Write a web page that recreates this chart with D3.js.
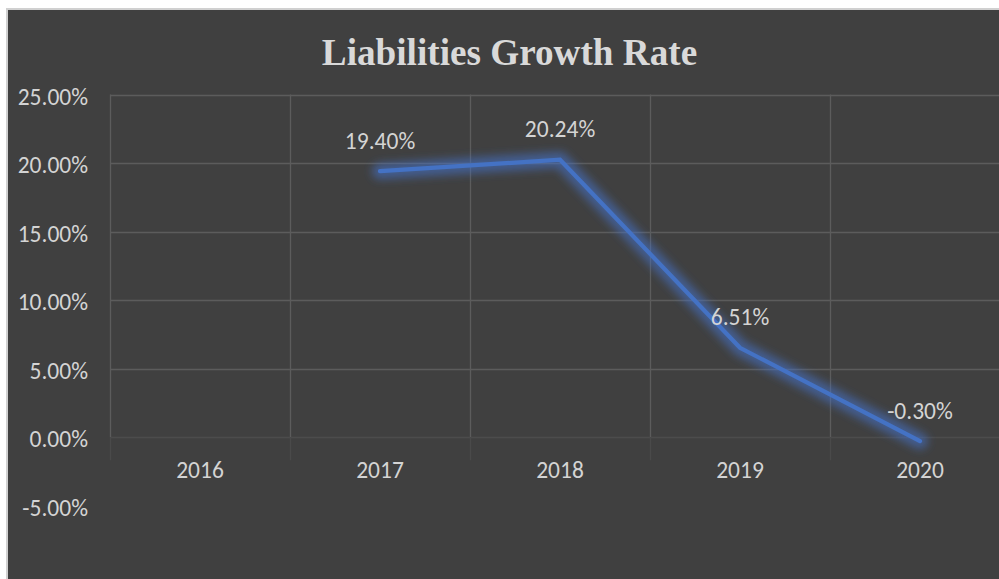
<!DOCTYPE html>
<html><head><meta charset="utf-8">
<script src="https://cdn.jsdelivr.net/npm/d3@7"></script>
<style>html,body{margin:0;padding:0;background:#fff;overflow:hidden}</style>
</head><body>
<svg id="chart" width="999" height="579"></svg>
<script>
const title = "Liabilities Growth Rate";
const years = ["2016", "2017", "2018", "2019", "2020"];
const growthRate = [null, 19.40, 20.24, 6.51, -0.30];
const yTicks = [-5, 0, 5, 10, 15, 20, 25];

const svg = d3.select("#chart");
const W = 999, H = 579;
const fontSans = "Carlito, Calibri, 'Open Sans', sans-serif";
const textColor = "#d4d4d4";
const fs = 23.5;
const pct = d => d3.format(".2f")(d).replace("\u2212", "-") + "%";

svg.append("rect").attr("x", 0).attr("y", 0).attr("width", W).attr("height", H).attr("fill", "#ffffff");
svg.append("rect").attr("x", 7).attr("y", 9).attr("width", 1010).attr("height", 600)
  .attr("fill", "#404040").attr("stroke", "#d0d0d0").attr("stroke-width", 2);

const x = d3.scaleBand().domain(years).range([110, 1010]).padding(0);
const y = d3.scaleLinear().domain([-5, 25]).range([505.5, 94.5]);

const defs = svg.append("defs");
const f = defs.append("filter").attr("id", "glow").attr("x", "-20%").attr("y", "-50%").attr("width", "140%").attr("height", "200%");
f.append("feGaussianBlur").attr("stdDeviation", 4.5);

const gGrid = svg.append("g");
gGrid.selectAll("line.h").data(yTicks.filter(t => t > 0)).join("line")
  .attr("x1", 110).attr("x2", 1010)
  .attr("y1", d => Math.round(y(d)) + 0.5).attr("y2", d => Math.round(y(d)) + 0.5)
  .attr("stroke", "#5c5c5c").attr("stroke-width", 1.3);
gGrid.append("line").attr("x1", 110).attr("x2", 1010)
  .attr("y1", Math.round(y(0)) + 0.5).attr("y2", Math.round(y(0)) + 0.5)
  .attr("stroke", "#4c4c4c").attr("stroke-width", 1.3);
const bounds = years.map(d => x(d)).concat([x(years[years.length - 1]) + x.bandwidth()]);
gGrid.selectAll("line.v").data(bounds).join("line")
  .attr("x1", d => d + 0.5).attr("x2", d => d + 0.5)
  .attr("y1", y(25)).attr("y2", y(0))
  .attr("stroke", "#5c5c5c").attr("stroke-width", 1.3);
gGrid.selectAll("line.vt").data(bounds).join("line")
  .attr("x1", d => d + 0.5).attr("x2", d => d + 0.5)
  .attr("y1", y(0)).attr("y2", y(-1.7))
  .attr("stroke", "#4a4a4a").attr("stroke-width", 1.3);

const yAxis = d3.axisLeft(y).tickValues(yTicks).tickSize(0).tickPadding(0).tickFormat(pct);
const gy = svg.append("g").attr("transform", "translate(88,0)").call(yAxis);
gy.select(".domain").remove();
gy.selectAll("text").attr("fill", textColor).attr("font-family", fontSans).attr("font-size", fs).attr("dy", "0.42em");

const xAxis = d3.axisBottom(x).tickSize(0).tickPadding(0);
const gx = svg.append("g").attr("transform", `translate(0,${470})`).call(xAxis);
gx.select(".domain").remove();
gx.selectAll("text").attr("fill", textColor).attr("font-family", fontSans).attr("font-size", fs).attr("dy", "0.36em");

const pts = years.map((d, i) => ({ year: d, v: growthRate[i] })).filter(d => d.v !== null);
const line = d3.line().x(d => x(d.year) + x.bandwidth() / 2).y(d => y(d.v));
svg.append("path").datum(pts).attr("d", line).attr("fill", "none")
  .attr("stroke", "#4472c4").attr("stroke-opacity", 0.6).attr("stroke-width", 16)
  .attr("stroke-linejoin", "round").attr("stroke-linecap", "round").attr("filter", "url(#glow)");
svg.append("path").datum(pts).attr("d", line).attr("fill", "none")
  .attr("stroke", "#4472c4").attr("stroke-width", 4.2)
  .attr("stroke-linejoin", "miter").attr("stroke-linecap", "round");

svg.append("g").selectAll("text").data(pts).join("text")
  .attr("x", d => x(d.year) + x.bandwidth() / 2)
  .attr("y", d => y(d.v) - 31)
  .attr("dy", "0.36em")
  .attr("text-anchor", "middle")
  .attr("fill", textColor).attr("font-family", fontSans).attr("font-size", fs)
  .text(d => pct(d.v));

svg.append("text").attr("x", 509.5).attr("y", 65).attr("text-anchor", "middle")
  .attr("fill", "#d9d9d9").attr("font-family", "'Liberation Serif', 'Times New Roman', serif")
  .attr("font-weight", "bold").attr("font-size", 37.2).text(title);
</script>
</body></html>
